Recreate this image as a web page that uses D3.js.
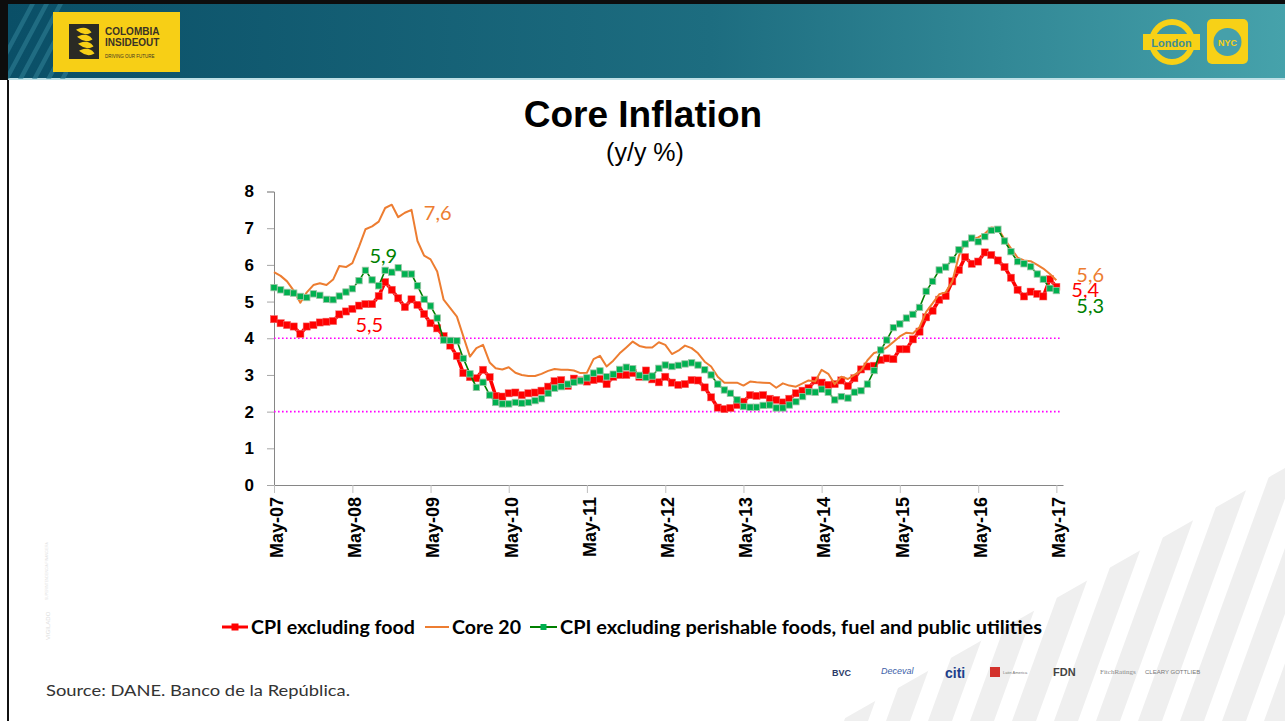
<!DOCTYPE html>
<html>
<head>
<meta charset="utf-8">
<script src="https://cdn.jsdelivr.net/npm/d3@7"></script>
<style>
  body { margin: 0; background: #fff; }
  svg { display: block; }
</style>
</head>
<body>
<div id="chart"></div>
<script>
"use strict";
//monthly data, first value is May-07, last is May-17
var startMonth = new Date(2007, 4, 1);

var cpiExFood = [
  4.52, 4.41, 4.36, 4.32, 4.12, 4.32, 4.36, 4.43, 4.45, 4.47, 4.65, 4.73,
  4.80, 4.89, 4.93, 4.93, 5.15, 5.53, 5.32, 5.09, 4.85, 5.06, 4.91, 4.66,
  4.41, 4.27, 4.06, 3.80, 3.52, 3.05, 2.94, 2.91, 3.14, 2.94, 2.43, 2.41,
  2.50, 2.52, 2.45, 2.50, 2.52, 2.57, 2.68, 2.83, 2.86, 2.70, 2.90, 2.85,
  2.82, 2.86, 2.89, 2.75, 2.95, 3.00, 3.00, 3.05, 2.95, 3.12, 2.88, 2.80,
  2.95, 2.79, 2.73, 2.75, 2.86, 2.85, 2.66, 2.39, 2.11, 2.07, 2.10, 2.18,
  2.27, 2.45, 2.43, 2.45, 2.35, 2.32, 2.25, 2.35, 2.50, 2.57, 2.64, 2.85,
  2.79, 2.73, 2.75, 2.85, 2.70, 2.91, 3.15, 3.23, 3.25, 3.41, 3.45, 3.43,
  3.70, 3.70, 3.97, 4.18, 4.57, 4.75, 5.05, 5.15, 5.55, 5.86, 6.21, 6.03,
  6.09, 6.34, 6.27, 6.12, 5.94, 5.65, 5.32, 5.14, 5.27, 5.21, 5.14, 5.61,
  5.40
];

var core20 = [
  5.80, 5.70, 5.55, 5.30, 4.97, 5.25, 5.45, 5.50, 5.45, 5.60, 5.97, 5.94,
  6.05, 6.50, 6.97, 7.05, 7.18, 7.55, 7.64, 7.30, 7.42, 7.50, 6.65, 6.25,
  6.15, 5.82, 5.05, 4.82, 4.59, 4.05, 3.50, 3.73, 3.82, 3.34, 3.18, 3.15,
  3.21, 3.06, 3.00, 2.97, 2.97, 3.03, 3.11, 3.16, 3.14, 3.14, 3.12, 3.05,
  3.06, 3.43, 3.52, 3.23, 3.39, 3.59, 3.75, 3.91, 3.79, 3.75, 3.75, 3.89,
  3.82, 3.57, 3.66, 3.80, 3.73, 3.59, 3.36, 3.23, 2.95, 2.79, 2.79, 2.79,
  2.71, 2.82, 2.80, 2.79, 2.78, 2.65, 2.77, 2.71, 2.68, 2.77, 2.85, 2.82,
  3.14, 3.03, 2.75, 2.95, 2.89, 3.00, 3.12, 3.40, 3.60, 3.65, 3.75, 3.90,
  4.05, 4.15, 4.13, 4.30, 4.72, 4.95, 5.20, 5.25, 5.55, 6.25, 6.60, 6.70,
  6.75, 6.85, 7.02, 7.00, 6.70, 6.45, 6.20, 6.12, 6.10, 6.00, 5.90, 5.75,
  5.58
];

var cpiExPerishables = [
  5.38, 5.32, 5.25, 5.23, 5.14, 5.11, 5.21, 5.17, 5.06, 5.05, 5.15, 5.26,
  5.35, 5.57, 5.85, 5.59, 5.43, 5.85, 5.80, 5.92, 5.75, 5.75, 5.43, 5.06,
  4.88, 4.55, 3.95, 3.94, 3.93, 3.45, 3.03, 2.66, 2.80, 2.45, 2.25, 2.21,
  2.21, 2.25, 2.23, 2.25, 2.30, 2.35, 2.50, 2.64, 2.68, 2.75, 2.80, 2.84,
  2.92, 3.05, 3.11, 2.95, 3.02, 3.15, 3.21, 3.17, 2.99, 2.93, 2.97, 3.18,
  3.27, 3.23, 3.26, 3.30, 3.33, 3.27, 3.14, 3.00, 2.75, 2.59, 2.50, 2.32,
  2.14, 2.12, 2.12, 2.17, 2.18, 2.10, 2.10, 2.18, 2.27, 2.41, 2.54, 2.53,
  2.61, 2.53, 2.32, 2.41, 2.37, 2.53, 2.57, 2.75, 3.12, 3.68, 3.95, 4.29,
  4.39, 4.55, 4.65, 4.84, 5.28, 5.55, 5.86, 5.94, 6.14, 6.41, 6.57, 6.73,
  6.63, 6.77, 6.94, 6.97, 6.65, 6.36, 6.09, 6.03, 5.95, 5.75, 5.61, 5.36,
  5.30
];

var yTicks = [0, 1, 2, 3, 4, 5, 6, 7, 8];
var xTickLabels = ["May-07", "May-08", "May-09", "May-10", "May-11", "May-12",
  "May-13", "May-14", "May-15", "May-16", "May-17"];
var targetRange = [2, 4];
var seriesNames = ["CPI excluding food", "Core 20",
  "CPI excluding perishable foods, fuel and public utilities"];
var sourceNote = "Source: DANE. Banco de la República.";

var W = 1285, H = 721;
var red = "#ff0000", orange = "#ed7d31", green = "#008000", greenMark = "#00b050";

var svg = d3.select("#chart").append("svg").attr("width", W).attr("height", H);

function monthDate(i) { return d3.timeMonth.offset(startMonth, i); }

//---------- slide frame ----------
var defs = svg.append("defs");
var hg = defs.append("linearGradient").attr("id", "hdr").attr("x1", 0).attr("x2", 1);
hg.append("stop").attr("offset", "0%").attr("stop-color", "#0a4f67");
hg.append("stop").attr("offset", "55%").attr("stop-color", "#1d6d80");
hg.append("stop").attr("offset", "100%").attr("stop-color", "#46a2ab");

defs.append("clipPath").attr("id", "stripeClip")
  .append("path").attr("d", "M840,721 L1285,468 L1285,721 Z");
defs.append("clipPath").attr("id", "hdrStripeClip")
  .append("rect").attr("x", 8).attr("y", 4).attr("width", 60).attr("height", 75);

svg.append("rect").attr("width", W).attr("height", H).attr("fill", "#fff");

//faint diagonal stripes bottom right
var stripes = svg.append("g").attr("clip-path", "url(#stripeClip)");
d3.range(0, 20).forEach(function(k) {
  var x0 = 760 + k * 42;
  stripes.append("path")
    .attr("d", "M" + x0 + ",721 L" + (x0 + 24) + ",721 L" + (x0 + 24 + 95) + ",460 L" + (x0 + 95) + ",460 Z")
    .attr("fill", "#efefef");
});

svg.append("rect").attr("x", 0).attr("y", 0).attr("width", W).attr("height", 80).attr("fill", "#0d0d0d");
svg.append("rect").attr("x", 8).attr("y", 4).attr("width", W - 8).attr("height", 75).attr("fill", "url(#hdr)");
svg.append("rect").attr("x", 8).attr("y", 78).attr("width", W - 8).attr("height", 2).attr("fill", "#bfe0e6");
svg.append("line").attr("x1", 8).attr("x2", 8).attr("y1", 80).attr("y2", H)
  .attr("stroke", "#111").attr("stroke-width", 2);

var hs = svg.append("g").attr("clip-path", "url(#hdrStripeClip)");
d3.range(0, 6).forEach(function(k) {
  var x0 = -10 + k * 14;
  hs.append("path")
    .attr("d", "M" + x0 + ",79 L" + (x0 + 5) + ",79 L" + (x0 + 45) + ",4 L" + (x0 + 40) + ",4 Z")
    .attr("fill", "#2e7f94").attr("opacity", 0.6);
});

//logo left
var logo = svg.append("g");
logo.append("rect").attr("x", 53).attr("y", 12).attr("width", 127).attr("height", 60).attr("fill", "#f7cf16");
logo.append("rect").attr("x", 69).attr("y", 24).attr("width", 30).attr("height", 35).attr("fill", "#2a2a24");
[30, 37, 44, 51].forEach(function(yy, i) {
  logo.append("path")
    .attr("d", "M" + (78 + i) + "," + yy + " q8,-3 12,2 q-6,3 -12,-2 z")
    .attr("fill", "#f7cf16").attr("stroke", "#f7cf16").attr("stroke-width", 2);
});
var logoFont = "Liberation Sans Narrow, Arial Narrow, sans-serif";
logo.append("text").attr("x", 105).attr("y", 35).text("COLOMBIA").attr("font-weight", "bold")
  .attr("font-family", logoFont).attr("font-size", 10).attr("fill", "#3a3325");
logo.append("text").attr("x", 105).attr("y", 46).text("INSIDEOUT").attr("font-weight", "bold")
  .attr("font-family", logoFont).attr("font-size", 10).attr("fill", "#3a3325");
logo.append("text").attr("x", 105).attr("y", 58).text("DRIVING OUR FUTURE")
  .attr("font-family", logoFont).attr("font-size", 4.5).attr("fill", "#3a3325");

//London roundel and NYC badge
var rl = svg.append("g");
rl.append("circle").attr("cx", 1172).attr("cy", 42).attr("r", 20)
  .attr("fill", "none").attr("stroke", "#f7d117").attr("stroke-width", 6);
rl.append("rect").attr("x", 1143).attr("y", 34).attr("width", 57).attr("height", 16).attr("fill", "#f7d117");
rl.append("text").attr("x", 1171.5).attr("y", 46.5).attr("text-anchor", "middle").text("London")
  .attr("font-family", "Liberation Sans, Arial, sans-serif").attr("font-weight", "bold")
  .attr("font-size", 11).attr("fill", "#3f8c95");
rl.append("rect").attr("x", 1207).attr("y", 19).attr("width", 41).attr("height", 45).attr("rx", 5).attr("fill", "#f7d117");
rl.append("circle").attr("cx", 1227.5).attr("cy", 42).attr("r", 14).attr("fill", "#46a0aa");
rl.append("text").attr("x", 1227.5).attr("y", 45.5).attr("text-anchor", "middle").text("NYC")
  .attr("font-family", "Liberation Sans, Arial, sans-serif").attr("font-weight", "bold")
  .attr("font-size", 9).attr("fill", "#f7d117");

//faint vertical watermark on the left
svg.append("text").attr("transform", "translate(50,640) rotate(-90)").text("VIGILADO")
  .attr("font-family", "Liberation Sans, Arial, sans-serif").attr("font-size", 6).attr("fill", "#dddddd");
svg.append("text").attr("transform", "translate(48,600) rotate(-90)").text("SUPERINTENDENCIA FINANCIERA")
  .attr("font-family", "Liberation Sans, Arial, sans-serif").attr("font-size", 3.5).attr("fill", "#e2e2e2");

//---------- title ----------
svg.append("text").attr("x", 643).attr("y", 127).attr("text-anchor", "middle").text("Core Inflation")
  .attr("font-family", "Liberation Sans, Arial, sans-serif").attr("font-weight", "bold").attr("font-size", 37).attr("fill", "#000");
svg.append("text").attr("x", 645).attr("y", 161).attr("text-anchor", "middle").text("(y/y %)")
  .attr("font-family", "Liberation Sans, Arial, sans-serif").attr("font-size", 25).attr("fill", "#000");

//---------- chart ----------
var x = d3.scaleTime().domain([startMonth, monthDate(121)]).range([274, 1063]);
var y = d3.scaleLinear().domain([0, 8]).range([485, 191.5]);

var tickDates = xTickLabels.map(function(d, i) { return monthDate(12 * i); });

var yAxis = svg.append("g").attr("transform", "translate(274,0)")
  .call(d3.axisLeft(y).tickValues(yTicks).tickSize(7).tickPadding(13).tickFormat(d3.format("d")));
yAxis.select(".domain").attr("stroke", "#868686");
yAxis.selectAll(".tick line").attr("stroke", "#a6a6a6");
yAxis.selectAll(".tick text").attr("font-family", "Liberation Sans, Arial, sans-serif")
  .attr("font-weight", "bold").attr("font-size", 17).attr("fill", "#000");

var xAxis = svg.append("g").attr("transform", "translate(0,485)")
  .call(d3.axisBottom(x).tickValues(tickDates).tickSize(8).tickSizeOuter(0)
    .tickFormat(function(d, i) { return xTickLabels[i]; }));
xAxis.select(".domain").attr("stroke", "#868686");
xAxis.selectAll(".tick line").attr("stroke", "#bfbfbf");
xAxis.selectAll(".tick text")
  .attr("transform", "rotate(-90)")
  .attr("text-anchor", "end")
  .attr("x", -12).attr("y", 2).attr("dy", "0.35em")
  .attr("font-family", "Liberation Sans, Arial, sans-serif")
  .attr("font-weight", "bold").attr("font-size", 18).attr("fill", "#000");

//target range lines
svg.append("g").selectAll("line").data(targetRange).join("line")
  .attr("x1", 274).attr("x2", x(monthDate(120)) + 4)
  .attr("y1", function(d) { return y(d); }).attr("y2", function(d) { return y(d); })
  .attr("stroke", "#ff00ff").attr("stroke-width", 1.6).attr("stroke-dasharray", "1.6,2.4");

var line = d3.line()
  .x(function(d, i) { return x(monthDate(i)); })
  .y(function(d) { return y(d); });

//CPI excluding food
svg.append("path").datum(cpiExFood).attr("d", line)
  .attr("fill", "none").attr("stroke", red).attr("stroke-width", 3.5).attr("stroke-linejoin", "round");
svg.append("g").selectAll("rect").data(cpiExFood).join("rect")
  .attr("x", function(d, i) { return x(monthDate(i)) - 3.6; })
  .attr("y", function(d) { return y(d) - 3.6; })
  .attr("width", 7.2).attr("height", 7.2)
  .attr("fill", red).attr("stroke", "#f26d6d").attr("stroke-width", 0.5);

//Core 20
svg.append("path").datum(core20).attr("d", line)
  .attr("fill", "none").attr("stroke", orange).attr("stroke-width", 2).attr("stroke-linejoin", "round");

//CPI excluding perishable foods, fuel and public utilities
svg.append("path").datum(cpiExPerishables).attr("d", line)
  .attr("fill", "none").attr("stroke", green).attr("stroke-width", 1.6);
svg.append("g").selectAll("rect").data(cpiExPerishables).join("rect")
  .attr("x", function(d, i) { return x(monthDate(i)) - 3.2; })
  .attr("y", function(d) { return y(d) - 3.2; })
  .attr("width", 6.4).attr("height", 6.4)
  .attr("fill", greenMark).attr("stroke", "#9cc5a6").attr("stroke-width", 0.8);

//value labels
var lblFont = "Lato, 'Open Sans', sans-serif";
function valueLabel(series, idx, dx, dy, color, anchor) {
  svg.append("text")
    .attr("x", x(monthDate(idx)) + dx).attr("y", y(series[idx]) + dy)
    .attr("text-anchor", anchor || "start")
    .attr("font-family", lblFont).attr("font-size", 20).attr("fill", color)
    .text(d3.format(".1f")(series[idx]).replace(".", ","));
}
valueLabel(core20, 18, 32, 15, orange);
valueLabel(cpiExPerishables, 19, -1, -5, green, "end");
valueLabel(cpiExFood, 17, -2, 50, red, "end");
//end-of-series labels, stacked to the right of the last point
valueLabel(core20, 120, 20, 2, orange);
valueLabel(cpiExFood, 120, 15, 10, red);
valueLabel(cpiExPerishables, 120, 20, 22.5, green);

//---------- legend ----------
var lg = svg.append("g").attr("font-family", "Lato, 'Open Sans', sans-serif")
  .attr("font-weight", "bold").attr("font-size", 19).attr("fill", "#000");
var legendY = 627;
var legendItems = [
  { name: seriesNames[0], x0: 222, x1: 248, tx: 251, color: red, w: 3, mark: 7, mfill: red, len: 164 },
  { name: seriesNames[1], x0: 425, x1: 449, tx: 452, color: orange, w: 2, mark: 0, len: 69 },
  { name: seriesNames[2], x0: 530, x1: 557, tx: 560, color: green, w: 2, mark: 6, mfill: greenMark, len: 482 }
];
legendItems.forEach(function(d) {
  lg.append("line").attr("x1", d.x0).attr("x2", d.x1).attr("y1", legendY).attr("y2", legendY)
    .attr("stroke", d.color).attr("stroke-width", d.w);
  if (d.mark) {
    lg.append("rect").attr("x", (d.x0 + d.x1) / 2 - d.mark / 2).attr("y", legendY - d.mark / 2)
      .attr("width", d.mark).attr("height", d.mark).attr("fill", d.mfill);
  }
  lg.append("text").attr("x", d.tx).attr("y", legendY + 7).text(d.name)
    .attr("textLength", d.len).attr("lengthAdjust", "spacingAndGlyphs");
});

//---------- footer ----------
svg.append("text").attr("x", 46).attr("y", 696).text(sourceNote)
  .attr("font-family", "Lato, 'Open Sans', sans-serif").attr("font-size", 16).attr("fill", "#333")
  .attr("textLength", 304).attr("lengthAdjust", "spacingAndGlyphs");

var sp = svg.append("g").attr("font-family", "Liberation Sans, Arial, sans-serif");
sp.append("text").attr("x", 832).attr("y", 676).text("BVC").attr("font-size", 9).attr("font-weight", "bold").attr("fill", "#2b3a67");
sp.append("text").attr("x", 881).attr("y", 674).text("Deceval").attr("font-size", 9).attr("font-style", "italic").attr("fill", "#3d5fa8");
sp.append("text").attr("x", 945).attr("y", 678).text("citi").attr("font-size", 14).attr("font-weight", "bold").attr("fill", "#1c3f8c");
sp.append("rect").attr("x", 990).attr("y", 667).attr("width", 10).attr("height", 10).attr("fill", "#d3322c");
sp.append("text").attr("x", 1003).attr("y", 674).text("Latin America").attr("font-size", 4).attr("fill", "#777");
sp.append("text").attr("x", 1053).attr("y", 676).text("FDN").attr("font-size", 11).attr("font-weight", "bold").attr("fill", "#444");
sp.append("text").attr("x", 1100).attr("y", 674).text("FitchRatings").attr("font-size", 7).attr("fill", "#888")
  .attr("font-family", "Liberation Serif, serif");
sp.append("text").attr("x", 1145).attr("y", 674).text("CLEARY GOTTLIEB").attr("font-size", 6).attr("fill", "#777");
</script>
</body>
</html>
